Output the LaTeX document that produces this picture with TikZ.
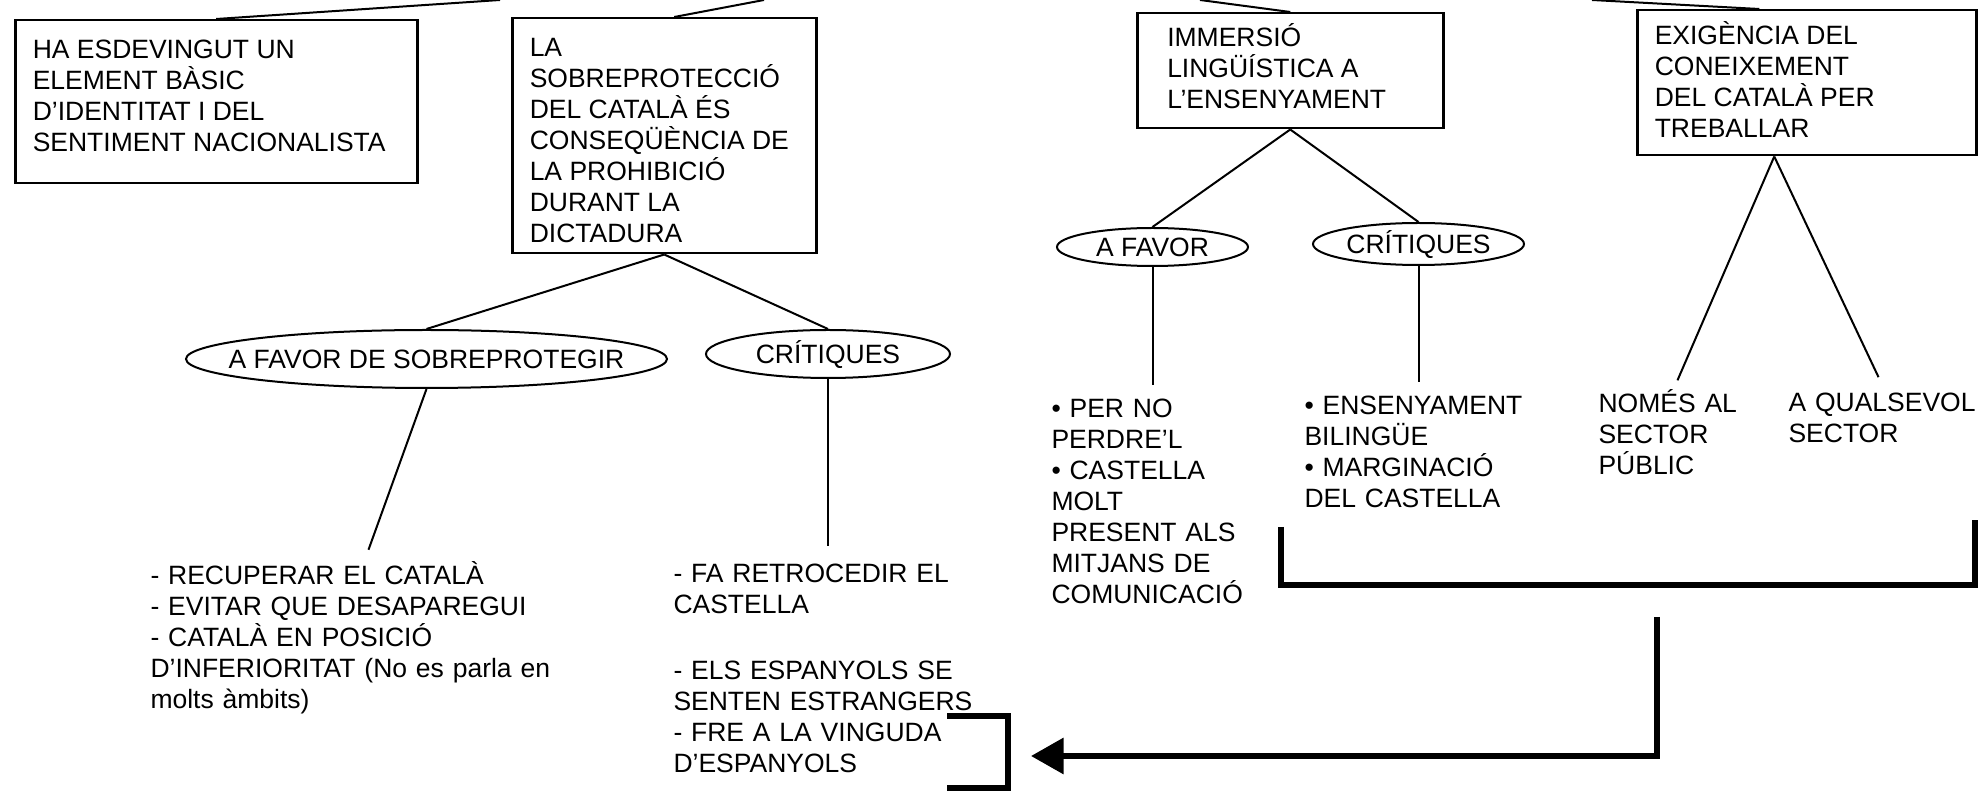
\documentclass[tikz,border=0pt]{standalone}
\usepackage{fontspec}
\setmainfont{Liberation Sans}
\usetikzlibrary{arrows.meta,shapes.geometric}

\begin{document}
\begin{tikzpicture}[x=0.4pt, y=-0.4pt,
        font=\fontsize{10.6}{12.4}\selectfont,
        caixa/.style={draw, line width=1pt, anchor=north west, inner ysep=0pt},
        bombolla/.style={ellipse, draw, line width=0.8pt, inner xsep=-30pt, inner ysep=0pt,
            text height=7.6pt, text depth=0pt},
        llista/.style={anchor=base west, inner sep=0pt, align=left},
        linia/.style={line width=0.8pt},
        gruix/.style={line width=2.4pt}]
    \useasboundingbox (0,0) rectangle (1988,791);

    \node[caixa, inner xsep=7pt] (identitat) at (14,19)
        {\parbox[c][65.2pt][t]{146.8pt}{\rule{0pt}{15.2pt}HA ESDEVINGUT UN\\ ELEMENT BÀSIC\\
        D’IDENTITAT I DEL\\ SENTIMENT NACIONALISTA}};
    \node[caixa, inner xsep=7pt] (sobre) at (511,17)
        {\parbox[c][94pt][t]{107.6pt}{\rule{0pt}{15.2pt}LA\\ SOBREPROTECCIÓ\\ DEL CATALÀ ÉS\\
        CONSEQÜÈNCIA DE\\ LA PROHIBICIÓ\\ DURANT LA\\ DICTADURA}};
    \node[caixa, inner xsep=12pt] (immersio) at (1136,12)
        {\parbox[c][46pt][t]{98.4pt}{\rule{0pt}{13.2pt}IMMERSIÓ\\ LINGÜÍSTICA A\\ L’ENSENYAMENT}};
    \node[caixa, inner xsep=7pt] (exigencia) at (1636,9)
        {\parbox[c][58pt][t]{121.6pt}{\rule{0pt}{13.6pt}EXIGÈNCIA DEL\\ CONEIXEMENT\\
        DEL CATALÀ PER\\ TREBALLAR}};

    \node[bombolla, minimum width=192.4pt, minimum height=23.2pt] (afavor) at (426.5,359) {A FAVOR DE SOBREPROTEGIR};
    \node[bombolla, minimum width=97.6pt, minimum height=19.2pt] (critiques) at (828,354) {CRÍTIQUES};
    \node[bombolla, minimum width=76.4pt, minimum height=15.2pt] (afavor2) at (1152.5,247) {A FAVOR};
    \node[bombolla, minimum width=84.4pt, minimum height=16.8pt] (critiques2) at (1418.5,244) {CRÍTIQUES};

    \node[llista, text width=171pt] (recuperar) at (150,585)
        {- RECUPERAR EL CATALÀ\\ - EVITAR QUE DESAPAREGUI\\ - CATALÀ EN POSICIÓ\\
        D’INFERIORITAT (No es parla en\\ molts àmbits)};
    \node[llista, text width=125pt] (retrocedir) at (673,583)
        {- FA RETROCEDIR EL\\ CASTELLA\\[14pt] - ELS ESPANYOLS SE\\ SENTEN ESTRANGERS\\
        - FRE A LA VINGUDA\\ D’ESPANYOLS};
    \node[llista, text width=82pt] (perdre) at (1051,418)
        {• PER NO\\ PERDRE’L\\ • CASTELLA\\ MOLT\\ PRESENT ALS\\ MITJANS DE\\ COMUNICACIÓ};
    \node[llista, text width=92pt] (bilingue) at (1304,415)
        {• ENSENYAMENT\\ BILINGÜE\\ • MARGINACIÓ\\ DEL CASTELLA};
    \node[llista, text width=60pt] (public) at (1598,413) {NOMÉS AL\\ SECTOR\\ PÚBLIC};
    \node[llista, text width=78pt] (qualsevol) at (1788,412) {A QUALSEVOL\\ SECTOR};

    \coordinate (dalt1) at (500,0);
    \coordinate (dalt2) at (764,0);
    \coordinate (dalt3) at (1200,0);
    \coordinate (dalt4) at (1592,0);
    \draw[linia] (identitat.north) -- (dalt1);
    \draw[linia] ([xshift=4pt]sobre.north) -- (dalt2);
    \draw[linia] (immersio.north) -- (dalt3);
    \draw[linia] ([xshift=-19pt]exigencia.north) -- (dalt4);

    \draw[linia] (sobre.south) -- (afavor.north);
    \draw[linia] (sobre.south) -- (critiques.north);
    \draw[linia, shorten >=5pt] (afavor.south) -- (recuperar.north);
    \draw[linia, shorten >=7pt] (critiques.south) -- (critiques.south |- retrocedir.north);

    \draw[linia] (immersio.south) -- (afavor2.north);
    \draw[linia] (immersio.south) -- (critiques2.north);
    \draw[linia, shorten >=5.5pt] (afavor2.south) -- (afavor2.south |- perdre.north);
    \draw[linia, shorten >=5.5pt] (critiques2.south) -- (critiques2.south |- bilingue.north);

    \coordinate (vertex) at ([xshift=-13pt]exigencia.south);
    \draw[linia, shorten >=4pt] (vertex) -- (public.north);
    \draw[linia, shorten >=7pt] (vertex) -- (qualsevol.north);

    \draw[gruix] (1281,527) -- (1281,585) -- (1975,585) -- (1975,520);
    \draw[gruix] (947,716) -- (1008,716) -- (1008,788) -- (947,788);
    \draw[gruix, -{Triangle[length=13pt, width=14pt]}] (1657,617) |- (1031,756);
\end{tikzpicture}
\end{document}
